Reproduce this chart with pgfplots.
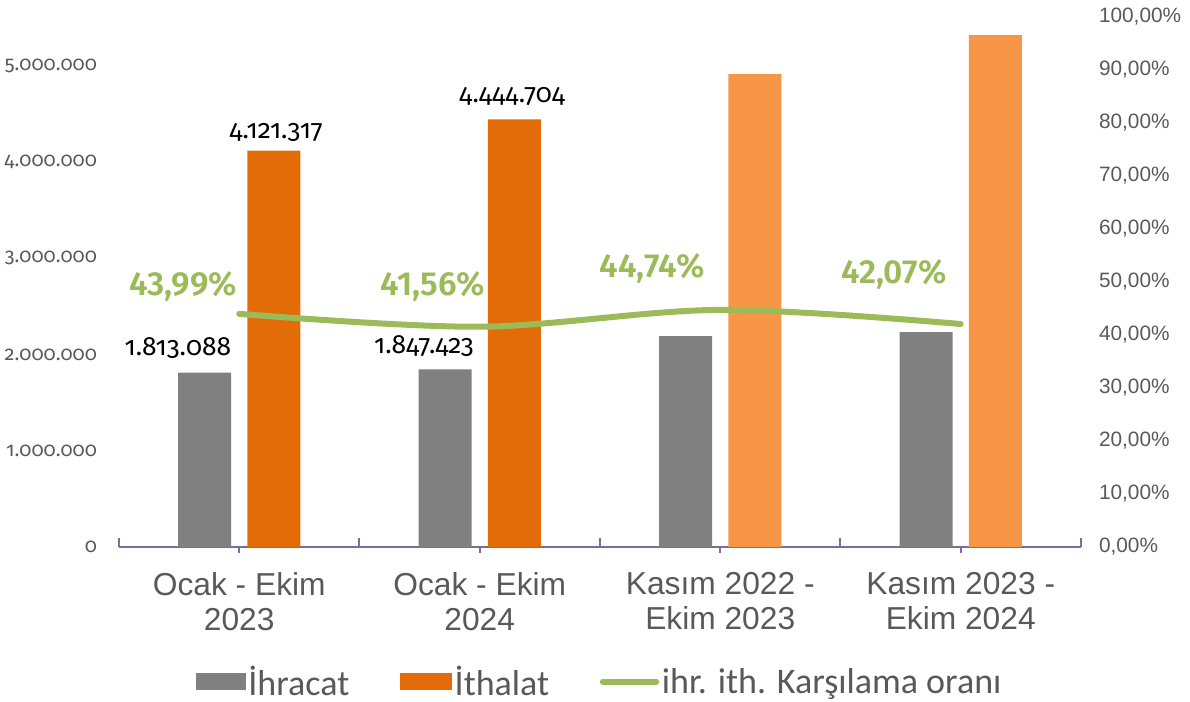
\documentclass[border=0pt]{standalone}
\usepackage{fontspec}
\setmainfont{Liberation Sans}
\newfontfamily\gill[Numbers=OldStyle]{Fira Sans}
\newfontfamily\gillb{Fira Sans SemiBold}
\newfontfamily\carl{Carlito}
\usepackage{pgfplots}
\pgfplotsset{compat=1.18}
\definecolor{gr}{HTML}{808080}
\definecolor{orA}{HTML}{E36C09}
\definecolor{orB}{HTML}{F79646}
\definecolor{gn}{HTML}{9BBB59}
\definecolor{tx}{HTML}{595959}
\definecolor{axc}{HTML}{7F6A9A}
\begin{document}
\begin{tikzpicture}
\useasboundingbox (-89.25pt,-116.25pt) rectangle (803.25pt,410.25pt);
\begin{axis}[
  scale only axis, width=721.5pt, height=397.5pt,
  xmin=-0.5, xmax=3.5, ymin=0, ymax=5510000,
  scaled y ticks=false,
  axis x line*=bottom, axis y line*=left,
  y axis line style={draw=none},
  x axis line style={axc, line width=1.5pt, -},
  xtick={0,1,2,3},
  xticklabels={{Ocak - Ekim\\2023},{Ocak - Ekim\\2024},{Kasım 2022 -\\Ekim 2023},{Kasım 2023 -\\Ekim 2024}},
  xticklabel style={align=center, text=tx, font=\fontsize{23.8}{26}\selectfont, yshift=-11pt},
  xtick style={axc, line width=1.5pt},
  xtick align=outside, major tick length=4.5pt,
  extra x ticks={-0.5,0.5,1.5,2.5,3.5}, extra x tick labels={},
  extra x tick style={xtick align=inside, major tick length=6.75pt},
  ytick={0,1000000,2000000,3000000,4000000,5000000},
  yticklabels={0,1.000.000,2.000.000,3.000.000,4.000.000,5.000.000},
  ytick style={draw=none},
  yticklabel style={text=tx, font=\gill\fontsize{15}{17}\selectfont, xshift=-13pt},
  legend columns=3,
  legend style={at={(rel axis cs:0.5,0)}, yshift=-101pt, anchor=center, draw=none,
     font=\carl\fontsize{27}{30}\selectfont, text=tx, inner sep=0pt,
     /tikz/every even column/.append style={column sep=36pt}},
  legend cell align=left,
]
\addplot[fill=gr, draw=none, ybar, bar width=39.75pt, bar shift=-25.9pt,
  legend image code/.code={\fill[gr] (0pt,-6.4pt) rectangle (37.5pt,6.4pt);}]
  coordinates {(0,1813088)(1,1847423)(2,2193000)(3,2235000)};
\addlegendentry{İhracat}
\addplot[fill=orA, draw=none, ybar, bar width=39.75pt, bar shift=25.9pt,
  legend image code/.code={\fill[orA] (0pt,-6.4pt) rectangle (39pt,6.4pt);}]
  coordinates {(0,4121317)(1,4444704)};
\addlegendentry{İthalat}
\addplot[fill=orB, draw=none, ybar, bar width=39.75pt, bar shift=25.9pt, forget plot]
  coordinates {(2,4917000)(3,5322000)};
\addlegendimage{gn, line width=4.5pt, line cap=round,
  legend image code/.code={\draw[gn, line width=4.5pt, line cap=round] (2pt,0pt) -- (42pt,0pt);}}
\addlegendentry{ihr. ith. Karşılama oranı}
\node[font=\gill\fontsize{19.8}{22}\selectfont] at (axis cs:0.153,4304000) {4.121.317};
\node[font=\gill\fontsize{19.8}{22}\selectfont] at (axis cs:1.134,4688000) {4.444.704};
\node[font=\gill\fontsize{19.8}{22}\selectfont] at (axis cs:-0.255,2069000) {1.813.088};
\node[font=\gill\fontsize{19.8}{22}\selectfont] at (axis cs:0.768,2089000) {1.847.423};
\end{axis}
\begin{axis}[
  scale only axis, width=721.5pt, height=397.5pt,
  xmin=-0.5, xmax=3.5, ymin=0, ymax=100,
  axis y line*=right, axis x line=none,
  y axis line style={draw=none},
  ytick={0,10,...,100},
  yticklabels={{0,00\%},{10,00\%},{20,00\%},{30,00\%},{40,00\%},{50,00\%},{60,00\%},{70,00\%},{80,00\%},{90,00\%},{100,00\%}},
  ytick style={draw=none},
  yticklabel style={text=tx, font=\fontsize{15.6}{18}\selectfont, anchor=west, xshift=10pt},
]
\addplot[gn, line width=4.5pt, line cap=round, smooth, tension=0.55]
  coordinates {(0,43.99)(1,41.56)(2,44.74)(3,42.07)};
\node[gn, font=\gillb\fontsize{25}{28}\selectfont] at (axis cs:-0.234,49.2) {43,99\%};
\node[gn, font=\gillb\fontsize{25}{28}\selectfont] at (axis cs:0.806,49.1) {41,56\%};
\node[gn, font=\gillb\fontsize{25}{28}\selectfont] at (axis cs:1.716,52.6) {44,74\%};
\node[gn, font=\gillb\fontsize{25}{28}\selectfont] at (axis cs:2.722,51.5) {42,07\%};
\end{axis}
\end{tikzpicture}
\end{document}
